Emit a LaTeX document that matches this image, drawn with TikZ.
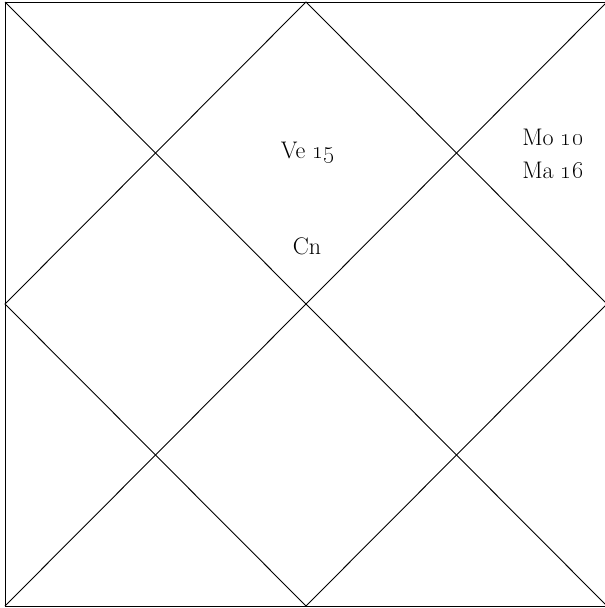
\documentclass[tikz,border=0pt]{standalone}
\usepackage{tikz}
\usetikzlibrary{calc}

\begin{document}
\begin{tikzpicture}[x=1pt, y=-1pt,
    chartline/.style={black, line width=0.9pt},
    planet/.style={font=\fontsize{24}{28}\selectfont, inner sep=0pt}]
  % Page frame
  \useasboundingbox (0,0) rectangle (605,608);

  % Outer square corners
  \coordinate (TL) at (5,2);
  \coordinate (TR) at (607,2);
  \coordinate (BR) at (607,606);
  \coordinate (BL) at (5,606);

  % Midpoints of the sides
  \coordinate (T) at ($(TL)!0.5!(TR)$);
  \coordinate (R) at ($(TR)!0.5!(BR)$);
  \coordinate (B) at ($(BL)!0.5!(BR)$);
  \coordinate (L) at ($(TL)!0.5!(BL)$);

  % Square, diagonals and inner diamond
  \draw[chartline] (TL) -- (TR) -- (BR) -- (BL) -- cycle;
  \draw[chartline] (TL) -- (BR);
  \draw[chartline] (TR) -- (BL);
  \draw[chartline] (T) -- (R) -- (B) -- (L) -- cycle;

  % Planets
  \node[planet] (ve) at (308,153) {Ve \oldstylenums{15}};
  \node[planet] (cn) at (307,246) {Cn};
  \node[planet] (mo) at (553,137) {Mo \oldstylenums{10}};
  \node[planet] (ma) at (553,170) {Ma \oldstylenums{16}};
\end{tikzpicture}
\end{document}
